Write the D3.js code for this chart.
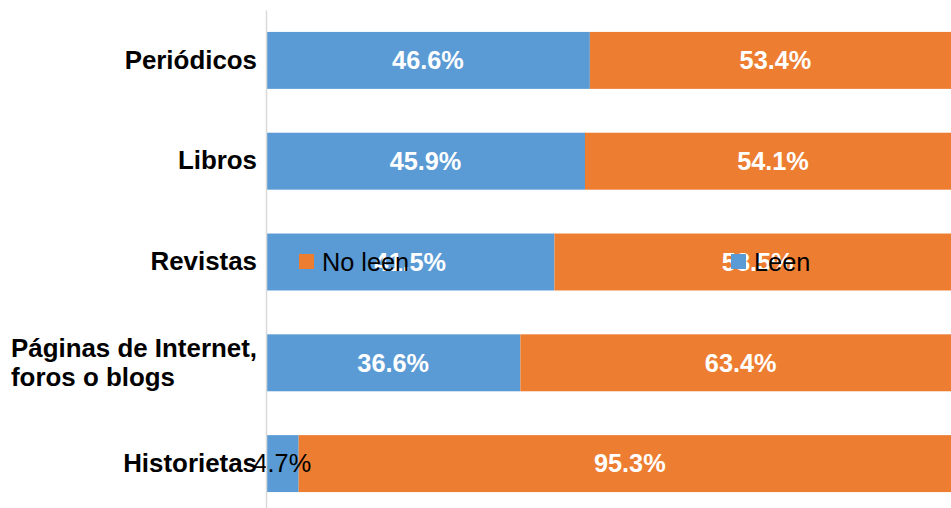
<!DOCTYPE html>
<html>
<head>
<meta charset="utf-8">
<script src="https://cdn.jsdelivr.net/npm/d3@7"></script>
<style>
  body { margin: 0; background: #fff; }
  svg { display: block; font-family: "Liberation Sans", Arial, sans-serif; }
</style>
</head>
<body>
<svg class="bar-chart" width="951" height="508"></svg>
<script>
"use strict";

// categories, top to bottom
var categories = ["Periódicos", "Libros", "Revistas", "Páginas de Internet,\nforos o blogs", "Historietas"];
var leen = [46.6, 45.9, 41.5, 36.6, 4.7];
var noLeen = [53.4, 54.1, 58.5, 63.4, 95.3];
var seriesNames = ["No leen", "Leen"];
var colors = { "Leen": "#5B9BD5", "No leen": "#ED7D31" };

function drawChart() {
    var svg = d3.select("svg.bar-chart");
    var fontSize = 25.3;
    var catFontSize = 25.9;

    var data = categories.map(function (c, i) {
        return { cat: c, leen: leen[i], noLeen: noLeen[i] };
    });

    var x = d3.scaleLinear().domain([0, 100]).range([266, 961]);
    var y = d3.scaleBand().domain(categories).range([10, 514])
        .paddingInner(0.435).paddingOuter(0.2175);

    // bars
    var rows = svg.selectAll(".row").data(data).enter().append("g").attr("class", "row");

    rows.append("rect")
        .attr("x", x(0))
        .attr("y", function (d) { return y(d.cat); })
        .attr("width", function (d) { return x(d.leen) - x(0); })
        .attr("height", y.bandwidth())
        .attr("fill", colors["Leen"]);

    rows.append("rect")
        .attr("x", function (d) { return x(d.leen); })
        .attr("y", function (d) { return y(d.cat); })
        .attr("width", function (d) { return x(d.leen + d.noLeen) - x(d.leen); })
        .attr("height", y.bandwidth())
        .attr("fill", colors["No leen"]);

    // axis (categories)
    var axis = svg.append("g").attr("class", "axis")
        .attr("transform", "translate(" + x(0) + ",0)")
        .call(d3.axisLeft(y).tickSize(0).tickPadding(9));
    axis.select(".domain").attr("stroke", "#d9d9d9").attr("stroke-width", 1.5);
    axis.selectAll("text")
        .attr("fill", "#000")
        .style("font-family", "'Liberation Sans', Arial, sans-serif")
        .style("font-size", catFontSize + "px")
        .style("font-weight", "bold")
        .each(function (d) {
            var lines = d.split("\n");
            if (lines.length < 2) return;
            var t = d3.select(this).text(null).attr("dy", null);
            var lh = 29;
            var first = t.append("tspan").attr("x", -9).attr("dy", (-(lines.length - 1) * lh / 2 + catFontSize * 0.35) + "px").text(lines[0]);
            var w = first.node().getComputedTextLength();
            t.attr("text-anchor", "start");
            first.attr("x", -9 - w);
            for (var k = 1; k < lines.length; k++) {
                t.append("tspan").attr("x", -9 - w).attr("dy", lh + "px").text(lines[k]);
            }
        });

    // value labels
    function fmt(v) { return v.toFixed(1) + "%"; }

    rows.append("text")
        .attr("x", function (d) { return (x(0) + x(d.leen)) / 2; })
        .attr("y", function (d) { return y(d.cat) + y.bandwidth() / 2; })
        .attr("dy", "0.35em")
        .attr("text-anchor", "middle")
        .style("font-size", fontSize + "px")
        .style("font-weight", function (d) { return d.leen < 10 ? "normal" : "bold"; })
        .attr("fill", function (d) { return d.leen < 10 ? "#000" : "#fff"; })
        .text(function (d) { return fmt(d.leen); });

    rows.append("text")
        .attr("x", function (d) { return (x(d.leen) + x(d.leen + d.noLeen)) / 2; })
        .attr("y", function (d) { return y(d.cat) + y.bandwidth() / 2; })
        .attr("dy", "0.35em")
        .attr("text-anchor", "middle")
        .style("font-size", fontSize + "px")
        .style("font-weight", "bold")
        .attr("fill", "#fff")
        .text(function (d) { return fmt(d.noLeen); });

    // legend (sits over the Revistas bar, as in the original)
    var legendY = y("Revistas") + y.bandwidth() / 2;
    var legend = svg.selectAll(".legend").data(seriesNames).enter().append("g")
        .attr("class", "legend")
        .attr("transform", function (d, i) { return "translate(" + (299 + i * 432) + "," + legendY + ")"; });

    legend.append("rect")
        .attr("x", 0).attr("y", -8)
        .attr("width", 15).attr("height", 15)
        .attr("fill", function (d) { return colors[d]; });

    legend.append("text")
        .attr("x", 23)
        .attr("dy", "0.35em")
        .style("font-size", fontSize + "px")
        .attr("fill", "#000")
        .text(function (d) { return d; });
}

drawChart();
</script>
</body>
</html>
